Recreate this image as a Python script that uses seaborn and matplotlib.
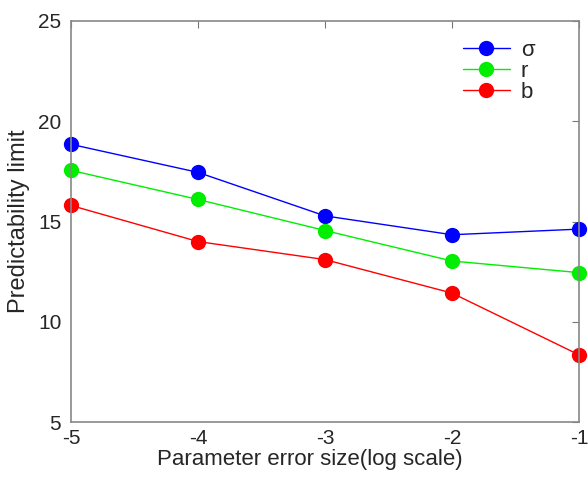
import matplotlib
matplotlib.use("Agg")
import matplotlib.pyplot as plt
import seaborn as sns
import pandas as pd

x_vals = [-5, -4, -3, -2, -1]
sigma_vals = [18.85, 17.45, 15.28, 14.34, 14.62]
r_vals = [17.55, 16.1, 14.55, 13.03, 12.45]
b_vals = [15.8, 14.0, 13.1, 11.43, 8.35]
series_names = ["σ", "r", "b"]
series_colors = ["#0000ff", "#00ee00", "#ff0000"]

sns.set_style("white")
plt.rcParams['font.family'] = ['Liberation Sans', 'DejaVu Sans']

df = pd.DataFrame({
    "x": x_vals * 3,
    "y": sigma_vals + r_vals + b_vals,
    "series": [series_names[0]] * 5 + [series_names[1]] * 5 + [series_names[2]] * 5,
})

fig = plt.figure(figsize=(5.88, 4.8), dpi=100)
ax = fig.add_axes([71 / 588, 58 / 480, 508 / 588, 401 / 480])

sns.lineplot(data=df, x="x", y="y", hue="series", palette=dict(zip(series_names, series_colors)),
             marker="o", markersize=11, markeredgewidth=0, linewidth=1.0, ax=ax, legend=True)

ax.set_xlim(-5, -1)
ax.set_ylim(5, 25)
ax.set_xticks(x_vals)
ax.set_xticklabels([str(v) for v in x_vals])
ax.set_yticks([5, 10, 15, 20, 25])
ax.tick_params(direction="in", length=5, width=0.8, color="#777777", labelsize=15,
               top=True, right=True)
ax.tick_params(axis="x", pad=5)
ax.tick_params(axis="y", pad=7)
for s in ax.spines.values():
    s.set_color("#888888")
    s.set_linewidth(1.2)
    s.set_visible(True)
ax.set_xlabel("Parameter error size(log scale)", fontsize=16)
ax.xaxis.set_label_coords((310 - 71) / 508, -0.068)
ax.set_ylabel("Predictability limit", fontsize=17, labelpad=6)
for line in ax.lines:
    line.set_clip_on(False)

leg = ax.legend(loc="upper left", bbox_to_anchor=(463 / 588, 1 - 40 / 480),
                bbox_transform=fig.transFigure, frameon=False, fontsize=16,
                handlelength=2.1, handletextpad=0.5, labelspacing=0.0,
                borderpad=0, borderaxespad=0)

fig.savefig("out.png", dpi=100)
